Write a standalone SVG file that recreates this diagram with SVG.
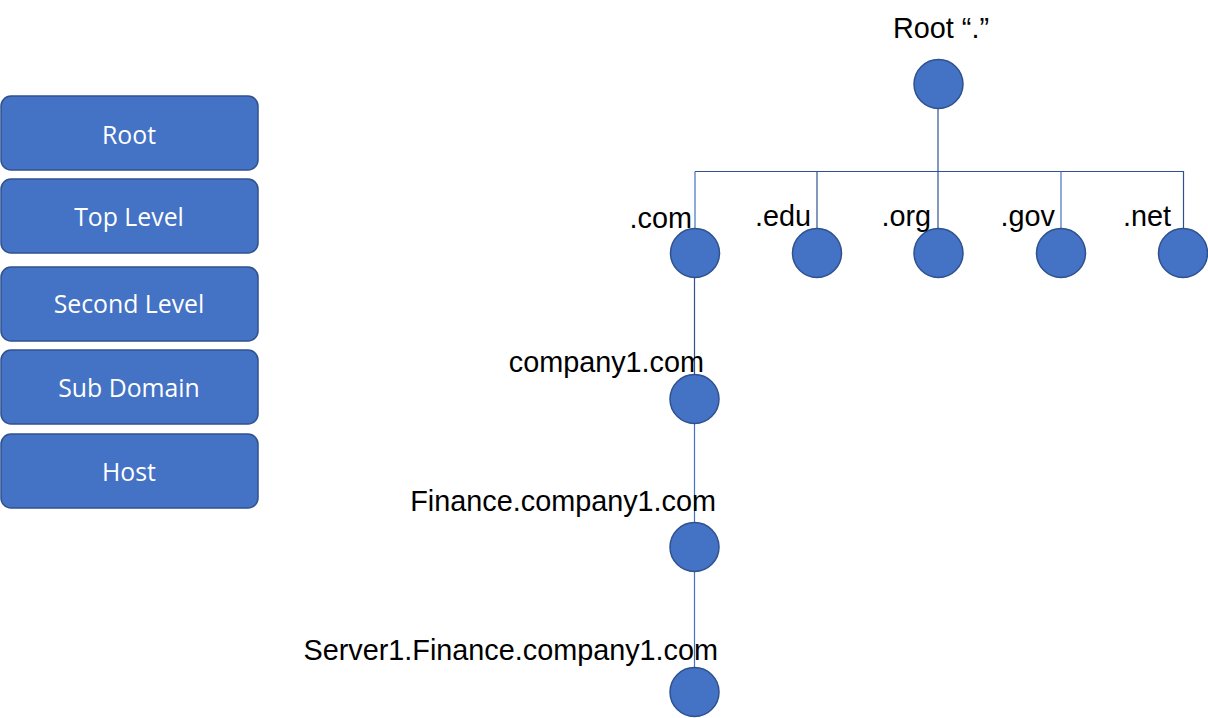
<svg xmlns="http://www.w3.org/2000/svg" width="1208" height="718" viewBox="0 0 1208 718">
<style>
.box{fill:#4472C4;stroke:#2F528F;stroke-width:1.5}
.bt{font-family:"Open Sans","Noto Sans",sans-serif;font-size:24.8px;fill:#fff;text-anchor:middle}
.dot{fill:#4472C4;stroke:#2F528F;stroke-width:1.5}
.lbl{font-family:"Liberation Sans",Arial,sans-serif;font-size:28.8px;fill:#000}
.ln{stroke:#2F528F;stroke-width:1.2;fill:none}
.ln2{stroke:#4472C4;stroke-width:1.2;fill:none}
</style>
<rect width="1208" height="718" fill="#fff"/>
<g id="legend-root"><rect class="box" x="1" y="96" width="257" height="74" rx="10"/><text class="bt" x="129" y="144">Root</text></g>
<g id="legend-top"><rect class="box" x="1" y="179" width="257" height="74" rx="10"/><text class="bt" x="129" y="226">Top Level</text></g>
<g id="legend-second"><rect class="box" x="1" y="267" width="257" height="74" rx="10"/><text class="bt" x="129" y="313">Second Level</text></g>
<g id="legend-sub"><rect class="box" x="1" y="350" width="257" height="74" rx="10"/><text class="bt" x="129" y="397">Sub Domain</text></g>
<g id="legend-host"><rect class="box" x="1" y="434" width="257" height="74" rx="10"/><text class="bt" x="129" y="481">Host</text></g>
<g id="connectors">
<path class="ln" d="M695 171.5H1183.5V228"/>
<path class="ln" d="M938 109V228"/>
<path class="ln2" d="M695 171.5V228"/>
<path class="ln" d="M817 171.5V228"/>
<path class="ln2" d="M1061 171.5V228"/>
<path class="ln" d="M694.5 278V374"/>
<path class="ln2" d="M694.5 424V522"/>
<path class="ln2" d="M694.5 572V667"/>
</g>
<g id="n-root"><circle class="dot" cx="938.5" cy="84" r="24.5"/><text class="lbl" x="941" y="38" text-anchor="middle">Root “.”</text></g>
<g id="n-com"><circle class="dot" cx="695" cy="253" r="24.5"/><text class="lbl" x="692" y="228" text-anchor="end">.com</text></g>
<g id="n-edu"><circle class="dot" cx="817" cy="253" r="24.5"/><text class="lbl" x="811" y="226" text-anchor="end">.edu</text></g>
<g id="n-org"><circle class="dot" cx="938.5" cy="253" r="24.5"/><text class="lbl" x="931" y="226" text-anchor="end">.org</text></g>
<g id="n-gov"><circle class="dot" cx="1061" cy="253" r="24.5"/><text class="lbl" x="1055" y="226" text-anchor="end">.gov</text></g>
<g id="n-net"><circle class="dot" cx="1183" cy="253" r="24.5"/><text class="lbl" x="1171" y="226" text-anchor="end">.net</text></g>
<g id="n-company1"><circle class="dot" cx="694.5" cy="399" r="24.5"/><text class="lbl" x="704" y="372" text-anchor="end">company1.com</text></g>
<g id="n-finance"><circle class="dot" cx="694.5" cy="547" r="24.5"/><text class="lbl" x="716" y="511" text-anchor="end">Finance.company1.com</text></g>
<g id="n-server1"><circle class="dot" cx="694.5" cy="692" r="24.5"/><text class="lbl" x="718" y="660" text-anchor="end">Server1.Finance.company1.com</text></g>
</svg>
